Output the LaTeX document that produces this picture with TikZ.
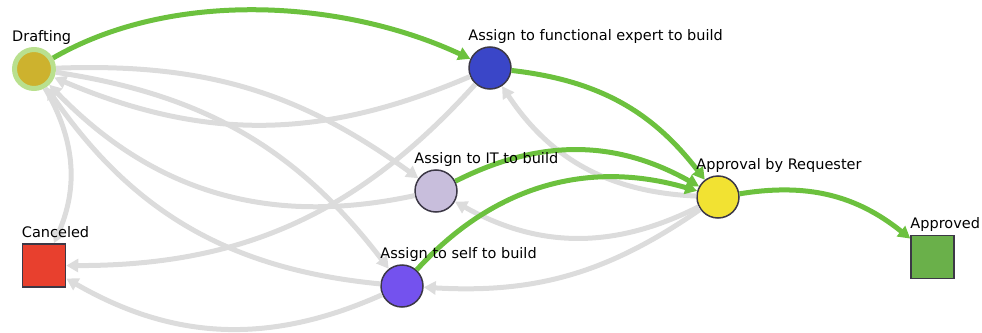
\documentclass[tikz,border=0pt]{standalone}
\usepackage{fontspec}
\setmainfont{DejaVu Sans}
\usetikzlibrary{arrows.meta, positioning}

\definecolor{pass}{HTML}{6CC13E}
\definecolor{back}{HTML}{DCDCDC}
\definecolor{rim}{HTML}{3C3846}
\definecolor{halo}{HTML}{B9E08E}

\begin{document}
\begin{tikzpicture}[x=1pt, y=-1pt, >={Triangle[length=12pt, width=13pt]},
	font=\fontsize{14.5}{16}\selectfont,
	state/.style={circle, draw=rim, line width=1.5pt, minimum size=42pt, inner sep=0pt},
	final/.style={rectangle, draw=rim, line width=1.5pt, minimum size=43pt, inner sep=0pt},
	lbl/.style={anchor=base west, inner sep=0pt, yshift=6pt},
	flow/.style={->, draw=pass, line width=5pt},
	retry/.style={->, draw=back, line width=5pt}]

	\useasboundingbox (0,0) rectangle (982,332);

	% states
	\node[state, fill={rgb,255:red,205;green,178;blue,46}, draw=halo, line width=5pt, minimum size=39pt] (draft) at (34,69) {};
	\node[state, fill={rgb,255:red,58;green,70;blue,200}] (expert) at (490,68) {};
	\node[state, fill={rgb,255:red,200;green,190;blue,220}] (it) at (436,191) {};
	\node[state, fill={rgb,255:red,116;green,82;blue,238}] (self) at (402,286) {};
	\node[state, fill={rgb,255:red,242;green,226;blue,50}] (review) at (718,197) {};
	\node[final, fill={rgb,255:red,232;green,64;blue,46}] (cancel) at (44,265.5) {};
	\node[final, fill={rgb,255:red,106;green,176;blue,74}] (done) at (932.5,257) {};

	% transitions not taken
	\path
	(draft) edge[retry, bend left=19] (it)
			edge[retry, bend left=22] (self)
			edge[retry, bend left=27] (cancel)
	(expert) edge[retry, bend left=23] (draft)
			edge[retry, bend left=24] (cancel)
	(it) edge[retry, bend left=29] (draft)
	(self) edge[retry, bend left=25] (draft)
			edge[retry, bend left=27] (cancel)
	(review) edge[retry, bend left=27] (expert)
			edge[retry, bend left=28] (it)
			edge[retry, bend left=19] (self);

	% taken path
	\path
	(draft) edge[flow, out=30, in=155, looseness=0.85] (expert)
	(expert) edge[flow, bend left=23] (review)
	(it) edge[flow, bend left=28] (review)
	(self) edge[flow, bend left=32] (review)
	(review) edge[flow, bend left=24] (done);

	% names
	\node[lbl] at (draft.west |- draft.north) {Drafting};
	\node[lbl] at (expert.west |- expert.north) {Assign to functional expert to build};
	\node[lbl] at (it.west |- it.north) {Assign to IT to build};
	\node[lbl] at (self.west |- self.north) {Assign to self to build};
	\node[lbl] at (review.west |- review.north) {Approval by Requester};
	\node[lbl] at (cancel.north west) {Canceled};
	\node[lbl] at (done.north west) {Approved};

\end{tikzpicture}
\end{document}
